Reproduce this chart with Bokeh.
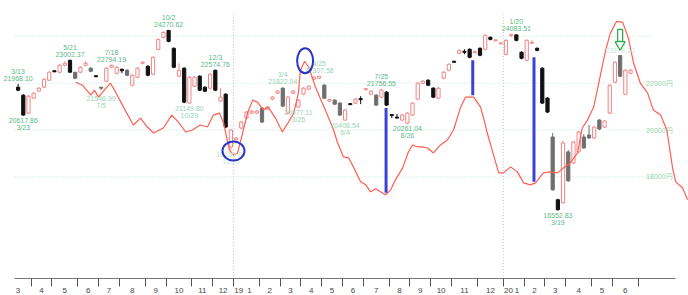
from bokeh.plotting import figure
from bokeh.models import FixedTicker, ColumnDataSource, Range1d
from bokeh.core.properties import value
from bokeh.embed import file_html
from bokeh.resources import INLINE

# ---------------- data (weekly Nikkei 225, Mar 2018 - Jun 2020) ----------------
week_open = [21829, 21489, 20723, 21361, 21659, 21829, 22127, 22531, 22468, 22766,
             22978, 22468, 22468, 22766, 22638, 22319, 21829, 22085, 22681, 22425,
             22596, 22553, 21915, 22255, 22851, 22723, 22383, 23446, 23957, 24255,
             23489, 22298, 22638, 21149, 21872, 22298, 21829, 21787, 22553, 21234,
             21531, 19276, 19574, 20085, 20510, 20723, 20723, 20936, 20894, 21319,
             21574, 21787, 20723, 21574, 20979, 21531, 21744, 22170, 22212, 21915,
             21234, 21276, 21149, 20425, 21127, 21149, 21340, 21723, 21531, 21489,
             21404, 21617, 20659, 20553, 20425, 20298, 20638, 21319, 22000, 22127,
             21787, 21361, 22212, 22553, 22936, 23276, 23361, 23446, 23297, 23489,
             23446, 23957, 23808, 23680, 23234, 24042, 24063, 23319, 22978, 23702,
             23489, 22638, 21361, 19702, 17021, 16894, 19064, 18596, 19064, 19702,
             19787, 19659, 20425, 20127, 20723, 22042, 23178, 21531, 22425]
week_close = [21702, 20638, 21446, 21574, 21787, 22170, 22468, 22489, 22766, 22851,
              22468, 22212, 22681, 22851, 22510, 22276, 21787, 22638, 22766, 22681,
              22531, 22340, 22340, 22638, 22893, 22340, 23106, 23872, 24170, 23787,
              22681, 22553, 21191, 22255, 22255, 21702, 21659, 22383, 21702, 21404,
              20127, 20000, 19659, 20340, 20766, 20808, 20808, 20340, 20979, 21404,
              21659, 21021, 21404, 21659, 21276, 21787, 21872, 22255, 22298, 21361,
              21298, 21106, 20638, 20851, 21085, 21319, 21298, 21766, 21659, 21064,
              21702, 21064, 20617, 20510, 20638, 20723, 21149, 22000, 22085, 21915,
              21404, 21787, 22468, 22808, 22893, 23404, 23319, 23106, 23340, 23191,
              24042, 23872, 23851, 23723, 23829, 24085, 23829, 23064, 23829, 23744,
              23404, 21149, 20766, 17447, 16600, 19447, 17830, 19489, 19915, 19234,
              19659, 20127, 20042, 20383, 21915, 22893, 22298, 22553, 22553]
week_high = [21968, 21531, 21489, 21617, 21829, 22212, 22510, 22553, 22808, 22936,
             23002, 22468, 22723, 22936, 22681, 22340, 21829, 22681, 22794, 22723,
             22617, 22596, 22383, 22681, 22936, 22766, 23149, 23914, 24212, 24271,
             23531, 22851, 22681, 22298, 22298, 22340, 21872, 22425, 22575, 21787,
             21574, 20042, 19702, 20383, 20808, 20851, 20851, 20979, 21021, 21446,
             21702, 21822, 21446, 21702, 21319, 21829, 21915, 22298, 22308, 21957,
             21319, 21319, 21191, 20894, 21149, 21361, 21446, 21787, 21702, 21531,
             21757, 21659, 20659, 20681, 20681, 20766, 21191, 22042, 22127, 22170,
             21829, 21829, 22510, 22851, 22957, 23446, 23446, 23489, 23404, 23531,
             24085, 23999, 23872, 23744, 23872, 24085, 24084, 23361, 23872, 23829,
             23531, 22681, 21404, 19872, 17064, 19531, 19149, 19531, 19957, 19829,
             20213, 20170, 20468, 20425, 21957, 22936, 23178, 22596, 22596]
week_low = [21659, 20618, 20681, 21319, 21617, 21787, 22127, 22468, 22425, 22723,
            22468, 22170, 22425, 22723, 22468, 22255, 21702, 22042, 22638, 22383,
            22425, 22298, 21872, 22212, 22808, 22298, 22340, 23404, 23914, 23744,
            22638, 22255, 21149, 21149, 21829, 21659, 21617, 21744, 21659, 21191,
            20085, 19156, 19489, 20042, 20468, 20681, 20681, 20298, 20851, 21276,
            21531, 20979, 20681, 21531, 20977, 21489, 21702, 22127, 22170, 21319,
            21191, 21064, 20596, 20408, 21064, 21106, 21106, 21702, 21489, 21021,
            21361, 21021, 20510, 20510, 20383, 20261, 20596, 21276, 21957, 21872,
            21361, 21319, 22170, 22510, 22872, 23234, 23234, 23064, 23297, 23149,
            23404, 23829, 23787, 23659, 23191, 23957, 23787, 23021, 22936, 23702,
            23361, 21106, 20723, 17404, 16553, 16851, 17787, 18553, 19021, 19191,
            19617, 19617, 20000, 20085, 20681, 22000, 22255, 21489, 22383]
# down weeks drawn in grey instead of black
grey_weeks = [11, 14, 16, 21, 47, 51, 59, 61, 62, 69, 103, 106, 109, 110, 112, 116]

# red indicator line (week position, value on the price scale)
line_week = [11.1, 12.4, 14.0, 14.7, 15.5, 16.6, 17.8, 18.8, 20.3, 22.2, 23.6, 24.9, 26.1, 28.0,
             29.6, 30.9, 32.3, 33.6, 35.1, 36.5, 37.6, 38.8, 39.6, 40.7, 41.5, 42.3, 43.4, 44.2,
             45.2, 46.1, 47.3, 48.2, 49.6, 50.9, 52.1, 53.1, 54.0, 54.4, 55.2, 56.0, 57.3, 59.2,
             60.8, 61.5, 62.7, 63.7, 64.6, 66.0, 67.0, 67.9, 68.9, 69.8, 70.8, 71.8, 72.7, 74.1,
             75.2, 76.0, 77.0, 77.9, 78.9, 80.0, 81.4, 82.7, 83.9, 85.2, 86.2, 87.8, 89.1, 89.8,
             90.4, 91.6, 92.6, 93.5, 94.9, 96.2, 97.4, 98.7, 99.7, 101.2, 102.6, 103.9, 105.1,
             106.4, 107.8, 108.7, 109.7, 110.9, 112.2, 113.2, 114.1, 115.3, 116.5, 117.6, 118.6,
             119.9, 121.3, 122.4, 123.8, 125.0, 126.1, 126.7, 128.0, 129.0]
line_value = [22042, 21915, 21489, 21702, 21404, 21702, 22000, 21617, 20979, 20213, 20510, 20128,
              19872, 20085, 20638, 20340, 19915, 20000, 20213, 20128, 20638, 20723, 20298, 19149,
              18936, 19021, 20000, 20723, 21276, 21191, 20851, 20979, 20510, 19915, 20340, 20723,
              21574, 22553, 22936, 22681, 21830, 20851, 20000, 19489, 18851, 18808, 18426, 17787,
              17660, 17362, 17489, 17362, 17234, 17447, 17872, 18383, 19064, 19362, 19277, 19277,
              19234, 19021, 19362, 19574, 20000, 20936, 21404, 21404, 20979, 20425, 19872, 18936,
              18170, 18170, 18426, 18213, 17745, 17660, 17745, 18170, 18213, 18170, 18383, 18596,
              19021, 20085, 20425, 20979, 22340, 23404, 24127, 24638, 24595, 23915, 22851, 22000,
              21574, 20851, 20638, 20000, 18383, 17787, 17532, 17021]

# blue divergence bars
blue_week = [70.9, 87.6, 99.4]
blue_top = [20936, 22978, 23106]
blue_bottom = [17319, 21489, 17787]

# highlighted points (blue rings) and the green arrow
ring_week = [41.5, 55.3]
ring_value = [19106, 22957]
arrow_week = [116]
arrow_top = [24297]
arrow_bottom = [23489]

# high / low annotations
label_week = [0, 1, 10, 16, 18, 29, 33, 38, 41, 51, 54, 58, 63, 70, 75, 96, 104, 116]
label_date = ["3/13", "3/23", "5/21", "7/5", "7/18", "10/2", "10/29", "12/3", "12/25",
              "3/4", "3/25", "4/25", "6/4", "7/25", "8/26", "1/20", "3/19", "6/9"]
label_price = ["21968.10", "20617.86", "23002.37", "21546.99", "22794.19", "24270.62",
               "21149.80", "22574.76", "19155.74", "21822.04", "20977.11", "22307.58",
               "20408.54", "21756.55", "20261.04", "24083.51", "16552.83", "23178.10"]
label_kind = ["high", "low", "high", "low", "high", "high", "low", "high", "low",
              "high", "low", "high", "low", "high", "low", "high", "low", "high"]
label_tone = ["strong", "strong", "strong", "light", "strong", "strong", "light", "strong", "faint",
              "light", "light", "light", "light", "strong", "strong", "strong", "strong", "faint"]

# axes
grid_values = [18000, 20000, 22000, 24000]
price_labels = {18000: "18000円", 20000: "20000円", 22000: "22000円"}
month_first_week = [-2, 3, 7, 12, 16, 20, 25, 29, 34, 38, 42, 47, 51, 55, 59, 63, 67, 72, 76,
                    80, 84, 89, 94, 98, 102, 106, 111, 115, 120]
month_label = ["3", "4", "5", "6", "7", "8", "9", "10", "11", "12",
               "1", "2", "3", "4", "5", "6", "7", "8", "9", "10", "11", "12",
               "1", "2", "3", "4", "5", "6"]
year_label = ["19", "20"]
year_first_week = [42, 94]

# ---------------- figure ----------------
X0, X1 = -3.39, 129.17      # frame spans the whole width
AX0 = -0.69                 # where the axis and grid start
p = figure(width=688, height=295, x_range=Range1d(X0, X1), y_range=Range1d(13660, 25531),
           output_backend="svg", toolbar_location=None, y_axis_location=None,
           min_border_left=0, min_border_right=0, min_border_top=0, min_border_bottom=16,
           background_fill_color="white", border_fill_color="white", outline_line_color=None)
p.xgrid.visible = False
p.ygrid.visible = False

GRID_END = 122.2
p.segment(x0=[AX0] * len(grid_values), y0=grid_values, x1=[GRID_END] * len(grid_values),
          y1=grid_values, line_color="#bfe4d0", line_dash="1 2", line_width=1)
yl = list(price_labels.keys())
p.text(x=[126.1] * len(yl), y=yl, text=[price_labels[v] for v in yl], text_align="right",
       text_baseline="middle", text_font_size="7px", text_color="#93d2ae",
       text_font=value("Liberation Sans"))

# year separators
yx = [w - 0.5 for w in year_first_week]
p.segment(x0=yx, y0=[24950] * len(yx), x1=yx, y1=[13660] * len(yx),
          line_color="#c4c4c4", line_dash="1 2", line_width=1)

# candles
RED, BLACK, GREY = "#f08585", "#111111", "#6f6f6f"
fills, lines = [], []
for i, (o, c) in enumerate(zip(week_open, week_close)):
    if c >= o:
        fills.append("white"); lines.append(RED)
    elif i in grey_weeks:
        fills.append(GREY); lines.append(GREY)
    else:
        fills.append(BLACK); lines.append(BLACK)
src = ColumnDataSource(dict(
    x=list(range(len(week_open))),
    top=[max(o, c) for o, c in zip(week_open, week_close)],
    bottom=[min(o, c) for o, c in zip(week_open, week_close)],
    high=week_high, low=week_low, fill=fills, line=lines))
p.segment(x0="x", y0="low", x1="x", y1="high", line_color="line", line_width=1, source=src)
p.vbar(x="x", width=0.62, top="top", bottom="bottom", fill_color="fill", line_color="line",
       line_width=1, source=src)

# red line
p.line(line_week, line_value, line_color="#ff5e50", line_width=1.2)

# blue bars
p.segment(x0=blue_week, y0=blue_top, x1=blue_week, y1=blue_bottom,
          line_color="#3a43d2", line_width=3)

# labels
tone_color = {"strong": "#5cb985", "light": "#9ad5b5", "faint": "#c3e7d3"}
lx, ly, lt, lc, lo = [], [], [], [], []
for w, d, pr, k, t in zip(label_week, label_date, label_price, label_kind, label_tone):
    v = float(pr)
    if k == "high":
        lx += [w, w]; ly += [v, v]; lt += [pr, d]; lo += [-5.5, -12.5]
    else:
        lx += [w, w]; ly += [v, v]; lt += [pr, d]; lo += [5.0, 12.0]
    lc += [tone_color[t]] * 2
p.text(x="x", y="y", text="t", text_color="c", y_offset="o", text_align="center",
       text_baseline="middle", text_font_size="7px", text_font=value("Liberation Sans"),
       source=ColumnDataSource(dict(x=lx, y=ly, t=lt, c=lc, o=lo)))

# rings
p.ellipse(x=ring_week[:1], y=ring_value[:1], width=22, height=19, width_units="screen",
          height_units="screen", fill_color=None, line_color="#2b35c6", line_width=2)
p.ellipse(x=ring_week[1:], y=ring_value[1:], width=16, height=25, width_units="screen",
          height_units="screen", fill_color=None, line_color="#2b35c6", line_width=2)

# green arrow
GREEN = "#2fae4a"
head_base = [b + (t - b) * 0.37 for t, b in zip(arrow_top, arrow_bottom)]
p.rect(x=arrow_week, y=[(t + hb) / 2 for t, hb in zip(arrow_top, head_base)], width=5,
       height=[t - hb for t, hb in zip(arrow_top, head_base)], width_units="screen",
       fill_color="white", line_color=GREEN, line_width=1.3)
p.scatter(x=arrow_week, y=[(hb + b) / 2 + (hb - b) * 0.05 for hb, b in zip(head_base, arrow_bottom)],
          marker="inverted_triangle", size=10, fill_color="white", line_color=GREEN, line_width=1.3)

# x axis: month labels between month boundary ticks
tick_pos, overrides = [], {}
for k, lab in enumerate(month_label):
    c = (month_first_week[k] + month_first_week[k + 1]) / 2 - 0.5
    if k == 0:
        c = 0.0
    if month_first_week[k] in year_first_week:
        c += 0.6
    tick_pos.append(c); overrides[c] = lab
for ylab, w in zip(year_label, year_first_week):
    c = w + 0.5
    tick_pos.append(c); overrides[c] = ylab
ax = p.xaxis[0]
ax.ticker = FixedTicker(ticks=tick_pos, minor_ticks=[w - 0.5 for w in month_first_week[1:]])
ax.major_label_overrides = overrides
ax.major_tick_in = 0
ax.major_tick_out = 0
ax.minor_tick_in = 0
ax.minor_tick_out = 8
ax.minor_tick_line_color = "#555555"
ax.axis_line_color = "#777777"
ax.major_label_text_font_size = "8px"
ax.major_label_text_color = "#444444"
ax.major_label_text_font = "Liberation Sans"
ax.major_label_standoff = 1
ax.bounds = (AX0, 126.7)

open("out.html", "w").write(file_html(p, INLINE))
